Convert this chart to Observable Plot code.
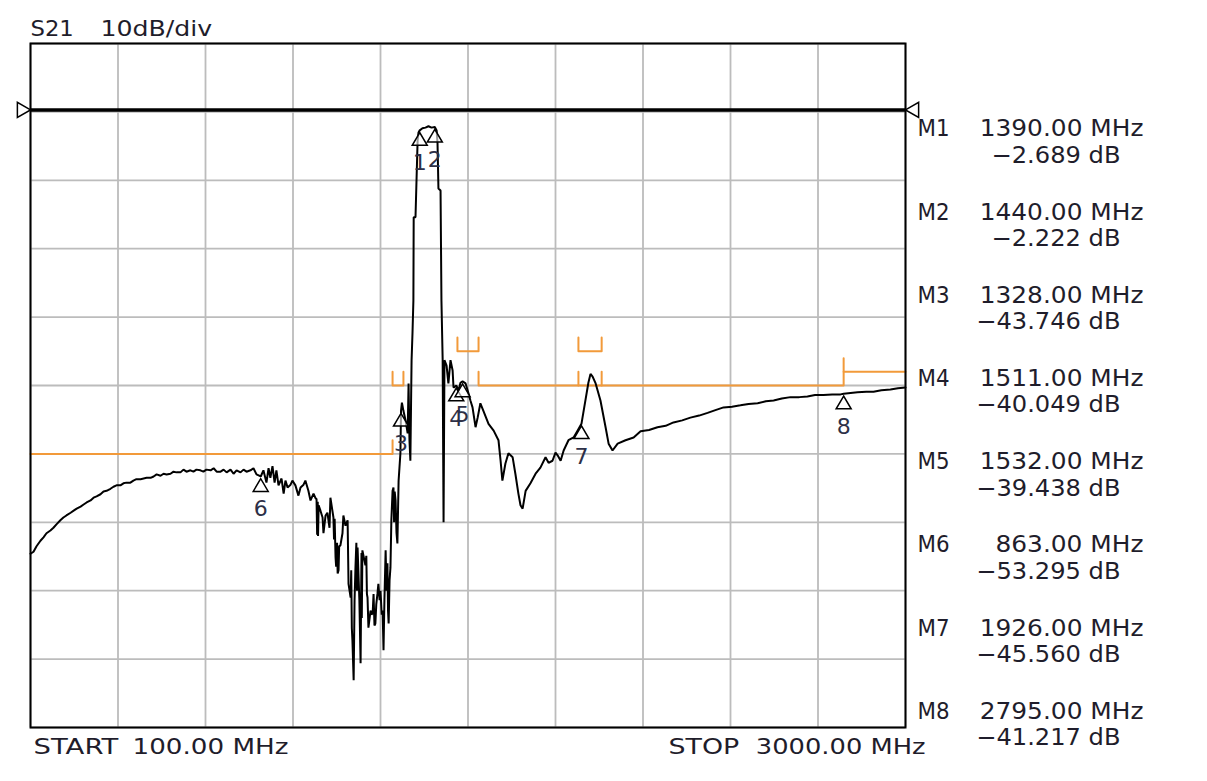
<!DOCTYPE html>
<html><head><meta charset="utf-8">
<script src="https://cdn.jsdelivr.net/npm/d3@7"></script>
<script src="https://cdn.jsdelivr.net/npm/@observablehq/plot@0.6"></script>
<style>html,body{margin:0;padding:0;background:#fff;} svg{display:block}</style>
</head><body><div id="chart"></div>
<script>
// ---- axis grid (MHz, dB) ----
const xGrid = [100, 390, 680, 970, 1260, 1550, 1840, 2130, 2420, 2710, 3000];
const yGrid = [10, 0, -10, -20, -30, -40, -50, -60, -70, -80, -90];
const refLevel = 0;

// ---- S21 trace: [MHz, dB] ----
const s21Low = [
  [100,-64.6],[110,-64.3],[120,-63.5],[133,-62.7],[143,-62.2],[153,-61.6],[166,-61.2],[176,-60.8],[186,-60.3],[199,-59.7],
  [209,-59.3],[219,-59.0],[233,-58.6],[243,-58.3],[253,-58.0],[266,-57.7],[276,-57.4],[286,-57.1],[299,-56.8],[309,-56.4],
  [319,-56.2],[332,-55.9],[342,-55.5],[352,-55.4],[365,-55.1],[375,-54.8],[385,-54.6],[398,-54.6],[408,-54.3],[418,-54.2],
  [431,-54.2],[441,-53.9],[451,-53.7],[465,-53.7],[475,-53.6],[485,-53.5],[498,-53.5],[508,-53.3],[518,-53.0],[531,-53.2],
  [541,-52.9],[551,-53.0],[564,-52.9],[574,-52.6],[584,-52.7],[597,-52.7],[607,-52.3],[617,-52.6],[630,-52.4],[640,-52.6],
  [650,-52.3],[663,-52.4],[673,-52.6],[683,-52.3],[697,-52.4],[707,-52.1],[717,-52.6],[730,-52.6],[740,-52.3],[750,-52.7],
  [763,-52.3],[773,-52.9],[783,-52.4],[796,-52.7],[806,-52.3],[816,-52.6],[829,-52.4],[839,-52.1],[849,-53.0],[863,-53.3]
];
const s21Stop = [
  [872,-52.4],[882,-54.2],[889,-52.1],[895,-53.5],[902,-51.8],[909,-54.2],[915,-52.4],[922,-54.6],[932,-53.6],[939,-55.8],
  [945,-53.9],[952,-54.9],[962,-54.5],[968,-53.9],[978,-54.6],[988,-56.1],[995,-54.9],[1005,-54.5],[1011,-53.9],[1021,-55.4],
  [1028,-56.8],[1038,-55.8],[1045,-56.5],[1048,-56.6],[1050,-61.8],[1052,-57.0],[1053,-62.0],[1055,-57.5],[1061,-58.3],[1068,-59.3],
  [1071,-61.6],[1078,-59.0],[1084,-58.6],[1091,-60.8],[1094,-56.4],[1104,-59.3],[1106,-62.5],[1108,-59.5],[1111,-65.1],[1113,-66.5],
  [1116,-63.0],[1118,-67.5],[1121,-67.0],[1123,-63.5],[1127,-63.4],[1134,-61.6],[1137,-59.0],[1144,-60.5],[1151,-59.7],[1154,-69.0],
  [1161,-71.0],[1163,-67.0],[1165,-75.5],[1167,-77.3],[1171,-83.1],[1174,-71.4],[1177,-66.6],[1180,-63.0],[1182,-70.0],[1184,-63.7],
  [1190,-71.4],[1194,-80.6],[1197,-64.5],[1198,-74.0],[1200,-64.1],[1207,-65.6],[1210,-66.3],[1213,-64.9],[1215,-70.5],[1217,-71.0],
  [1220,-75.4],[1227,-72.9],[1230,-73.5],[1234,-73.3],[1237,-70.5],[1240,-75.1],[1243,-74.8],[1246,-72.0],[1250,-70.4],[1253,-69.0],
  [1257,-71.4],[1260,-70.0],[1264,-73.5],[1267,-72.9],[1270,-78.7],[1273,-71.4],[1277,-64.1],[1280,-70.0],[1283,-66.0],[1285,-73.0],
  [1287,-74.8],[1290,-68.5],[1293,-66.6],[1296,-59.7],[1300,-55.4],[1303,-54.9],[1305,-60.0],[1307,-55.5],[1310,-56.8],[1313,-61.5],
  [1316,-63.1],[1320,-53.9],[1326,-49.9]
];
const s21Pass = [
  [1328,-43.7],[1331,-42.5],[1336,-43.7],[1343,-45.1],[1350,-47.0],[1353,-39.7],[1356,-48.0],[1359,-51.0],[1363,-36.3],[1366,-32.4],
  [1369,-27.6],[1370,-15.4],[1376,-15.4],[1383,-4.2],[1386,-3.0],[1390,-2.7],[1399,-2.4],[1409,-2.3],[1419,-2.1],[1429,-2.3],
  [1440,-2.2],[1446,-2.7],[1449,-4.6],[1452,-11.2],[1459,-11.5],[1462,-27.6],[1466,-36.2],[1469,-60.0],[1472,-36.3],[1479,-37.1],
  [1485,-39.7],[1492,-36.3],[1499,-37.8],[1502,-40.3],[1509,-40.1],[1511,-40.0],[1519,-40.7],[1525,-39.6],[1532,-39.4]
];
const s21High = [
  [1542,-39.7],[1552,-41.2],[1558,-42.2],[1565,-43.2],[1575,-46.1],[1582,-44.7],[1591,-42.6],[1601,-43.7],[1618,-45.6],[1635,-46.6],
  [1651,-48.0],[1658,-51.0],[1664,-53.9],[1674,-51.4],[1684,-49.9],[1698,-50.5],[1707,-52.9],[1717,-55.8],[1724,-57.5],[1731,-58.0],
  [1741,-55.4],[1757,-54.3],[1774,-52.9],[1790,-52.0],[1807,-50.5],[1817,-51.3],[1830,-51.0],[1840,-49.8],[1847,-50.2],[1857,-51.0],
  [1867,-49.5],[1883,-48.0],[1900,-47.6],[1913,-46.6],[1926,-45.6],[1939,-42.2],[1949,-39.6],[1956,-38.3],[1963,-38.7],[1973,-39.7],
  [1989,-42.2],[2006,-46.1],[2016,-48.5],[2029,-49.5],[2046,-48.5],[2072,-48.0],[2099,-47.6],[2122,-46.7],[2150,-46.5],[2178,-46.1],
  [2205,-45.9],[2231,-45.4],[2260,-45.1],[2287,-44.7],[2316,-44.4],[2344,-44.0],[2370,-43.6],[2397,-43.2],[2425,-43.1],[2453,-42.9],
  [2480,-42.7],[2510,-42.6],[2537,-42.3],[2563,-42.2],[2590,-41.9],[2619,-41.7],[2648,-41.7],[2675,-41.6],[2700,-41.4],[2728,-41.4],
  [2757,-41.3],[2785,-41.3],[2795,-41.2],[2841,-41.0],[2870,-40.9],[2894,-40.9],[2920,-40.7],[2950,-40.6],[2975,-40.4],[3000,-40.3]
];

// ---- limit lines: polylines [MHz, dB] ----
const limitStop1 = [[100,-50],[1300,-50],[1300,-48]];
const limitBracket1 = [[1300,-38],[1300,-40],[1336,-40],[1336,-38]];
const limitBracket2 = [[1515,-33],[1515,-35],[1585,-35],[1585,-33]];
const limitStop2 = [[1585,-38],[1585,-40],[2795,-40],[2795,-36]];
const limitTick1 = [[1916,-40],[1916,-38]];
const limitTick2 = [[1993,-40],[1993,-38]];
const limitBracket3 = [[1916,-33],[1916,-35],[1993,-35],[1993,-33]];
const limitStop3 = [[2795,-38],[3000,-38]];

// ---- markers ----
const markerId = [1, 2, 3, 4, 5, 6, 7, 8];
const markerFreq = [1390, 1440, 1328, 1511, 1532, 863, 1926, 2795];
const markerDb = [-2.689, -2.222, -43.746, -40.049, -39.438, -53.295, -45.560, -41.217];

// ---- header / footer text ----
const paramLabel = "S21";
const scaleLabel = "10dB/div";
const startLabel = ["START", "100.00 MHz"];
const stopLabel = ["STOP", "3000.00 MHz"];

// ---------------------------------------------------------------
const trace = [...s21Low, ...s21Stop, ...s21Pass, ...s21High].map(([f, db]) => ({f, db}));
const limitPolys = [limitStop1, limitBracket1, limitBracket2, limitStop2, limitTick1, limitTick2, limitBracket3, limitStop3]
  .flatMap((poly, k) => poly.map(([f, db]) => ({f, db, k})));
const markers = markerId.map((id, i) => ({id, f: markerFreq[i], db: markerDb[i]}));

const fmtF = d3.format(".2f"), fmtD = d3.format(".3f");
const orange = "#f29a3a";
const FONT = "DejaVu Sans";
const txtColor = "#1f1d2b";

// triangle symbols (apex at the anchor point)
const markerTri = {draw(ctx, size) {
  const r = Math.sqrt(size / Math.PI);
  ctx.moveTo(0, 0.3 * r); ctx.lineTo(-r, 2.0 * r); ctx.lineTo(r, 2.0 * r); ctx.closePath();
}};
const refRight = {draw(ctx, size) {
  const r = Math.sqrt(size / Math.PI);
  ctx.moveTo(0, 0); ctx.lineTo(-1.75 * r, -r); ctx.lineTo(-1.75 * r, r); ctx.closePath();
}};
const refLeft = {draw(ctx, size) {
  const r = Math.sqrt(size / Math.PI);
  ctx.moveTo(0, 0); ctx.lineTo(1.75 * r, -r); ctx.lineTo(1.75 * r, r); ctx.closePath();
}};

const rowStep = 83.2;
const readouts = markers.flatMap((m, i) => [
  Plot.text([`M${m.id}`], {frameAnchor: "top-right", textAnchor: "start", lineAnchor: "middle", dx: 12, dy: 85.5 + i * rowStep, fontSize: 23, fill: txtColor}),
  Plot.text([`${fmtF(m.f)} MHz`], {frameAnchor: "top-right", textAnchor: "end", lineAnchor: "middle", dx: 238, dy: 85.5 + i * rowStep, fontSize: 23, fill: txtColor}),
  Plot.text([`${fmtD(m.db)} dB`], {frameAnchor: "top-right", textAnchor: "end", lineAnchor: "middle", dx: 215, dy: 112 + i * rowStep, fontSize: 23, fill: txtColor})
]);

const chart = Plot.plot({
  width: 1207, height: 781,
  marginLeft: 30, marginRight: 302, marginTop: 43, marginBottom: 54,
  x: {domain: [100, 3000], axis: null},
  y: {domain: [-90, 10], axis: null},
  style: {background: "white", fontFamily: FONT, overflow: "visible"},
  marks: [
    Plot.ruleX(xGrid, {stroke: "#bcbcbc", strokeWidth: 1.8}),
    Plot.ruleY(yGrid, {stroke: "#bcbcbc", strokeWidth: 1.8}),
    Plot.line(limitPolys, {x: "f", y: "db", z: "k", stroke: orange, strokeWidth: 2}),
    Plot.ruleY([refLevel], {stroke: "black", strokeWidth: 3.5, dy: -2}),
    Plot.line(trace, {x: "f", y: "db", stroke: "black", strokeWidth: 2, strokeLinejoin: "miter"}),
    Plot.frame({stroke: "black", strokeWidth: 2}),
    Plot.dot([{f: 100, db: refLevel}], {x: "f", y: "db", symbol: refRight, r: 7.5, fill: "white", stroke: "black", strokeWidth: 1.5, dy: -2}),
    Plot.dot([{f: 3000, db: refLevel}], {x: "f", y: "db", symbol: refLeft, r: 7.5, fill: "white", stroke: "black", strokeWidth: 1.5, dy: -2}),
    Plot.dot(markers, {x: "f", y: "db", symbol: markerTri, r: 7.5, fill: "white", fillOpacity: 0.6, stroke: "black", strokeWidth: 1.5}),
    Plot.text(markers, {x: "f", y: "db", text: d => String(d.id), dy: 33, fontSize: 22, fill: "#2d3047", lineAnchor: "middle"}),
    Plot.text([paramLabel], {frameAnchor: "top-left", textAnchor: "start", lineAnchor: "middle", dx: 0, dy: -14, fontSize: 21, fill: txtColor}),
    Plot.text([scaleLabel], {frameAnchor: "top-left", textAnchor: "start", lineAnchor: "middle", dx: 70, dy: -14, fontSize: 21, fill: txtColor}),
    Plot.text([startLabel[0]], {frameAnchor: "bottom-left", textAnchor: "start", lineAnchor: "middle", dx: 3, dy: 19, fontSize: 22, fill: txtColor}),
    Plot.text([startLabel[1]], {frameAnchor: "bottom-left", textAnchor: "start", lineAnchor: "middle", dx: 102, dy: 19, fontSize: 22, fill: txtColor}),
    Plot.text([stopLabel[0]], {frameAnchor: "bottom-right", textAnchor: "start", lineAnchor: "middle", dx: -237, dy: 19, fontSize: 22, fill: txtColor}),
    Plot.text([stopLabel[1]], {frameAnchor: "bottom-right", textAnchor: "end", lineAnchor: "middle", dx: 20, dy: 19, fontSize: 22, fill: txtColor}),
    ...readouts
  ]
});
document.getElementById("chart").appendChild(chart);

// widen the instrument-style lettering (the screen font is broader than DejaVu Sans)
const stretch = new Map([
  [paramLabel, 1.08], [scaleLabel, 1.2],
  [startLabel[0], 1.25], [startLabel[1], 1.19],
  [stopLabel[0], 1.22], [stopLabel[1], 1.17]
]);
d3.select(chart).selectAll("text").each(function() {
  const t = this.textContent;
  let k = stretch.get(t);
  if (k === undefined) {
    if (/^M\d$/.test(t)) k = 0.93;
    else if (/MHz$/.test(t)) k = 1.08;
    else if (/dB$/.test(t)) k = 1.05;
  }
  if (k !== undefined) {
    const len = this.getComputedTextLength();
    this.setAttribute("textLength", (len * k).toFixed(1));
    this.setAttribute("lengthAdjust", "spacingAndGlyphs");
  }
});
</script></body></html>
